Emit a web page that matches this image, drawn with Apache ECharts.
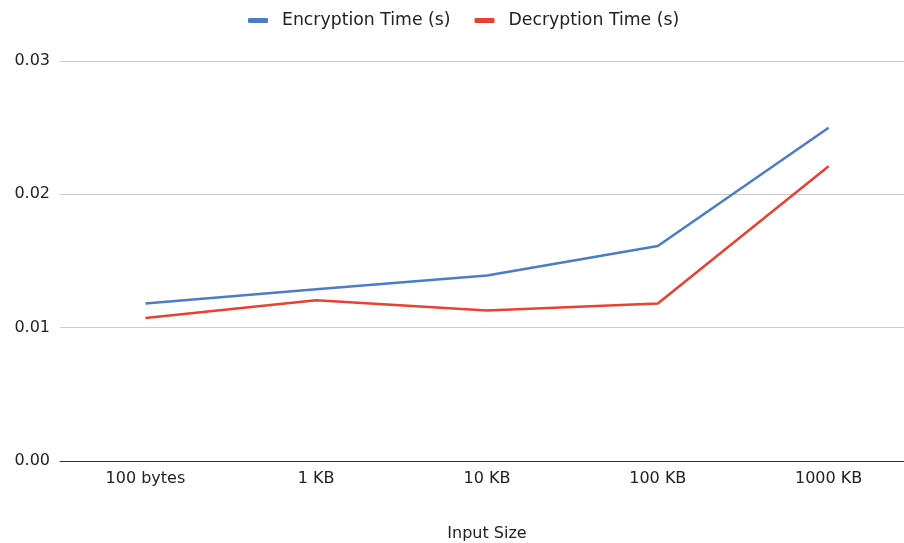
<!DOCTYPE html>
<html>
<head>
<meta charset="utf-8">
<script src="https://cdn.jsdelivr.net/npm/echarts@6/dist/echarts.min.js"></script>
<style>
html,body{margin:0;padding:0;background:#fff;}
#chart{width:904px;height:543px;}
</style>
</head>
<body>
<div id="chart"></div>
<script>
const categories = ['100 bytes', '1 KB', '10 KB', '100 KB', '1000 KB'];
const encryptionTime = [0.01181, 0.01289, 0.01391, 0.01613, 0.0250];
const decryptionTime = [0.01072, 0.01206, 0.01129, 0.01181, 0.0221];
const seriesNames = ['Encryption Time (s)', 'Decryption Time (s)'];
const xAxisName = 'Input Size';

const chart = echarts.init(document.getElementById('chart'));
const font = '"DejaVu Sans", sans-serif';
chart.setOption({
  animation: false,
  color: ['#4a7cc9', '#e8412f'],
  legend: {
    top: 12,
    left: 248,
    padding: 0,
    itemWidth: 20,
    itemHeight: 5,
    itemGap: 24,
    icon: 'roundRect',
    textStyle: { fontFamily: font, fontSize: 17.3, color: '#222', padding: [0, 0, 0, 9] },
    data: seriesNames
  },
  grid: { left: 60, top: 61, width: 854, height: 400, containLabel: false, outerBoundsMode: 'none' },
  xAxis: {
    type: 'category',
    data: categories,
    boundaryGap: true,
    name: xAxisName,
    nameLocation: 'middle',
    nameGap: 65,
    nameTextStyle: { fontFamily: font, fontSize: 16, color: '#222' },
    axisLine: { lineStyle: { color: '#333', width: 1 } },
    axisTick: { show: false },
    axisLabel: { fontFamily: font, fontSize: 16, color: '#222', margin: 10 }
  },
  yAxis: {
    type: 'value',
    min: 0,
    max: 0.03,
    interval: 0.01,
    axisLine: { show: false },
    axisTick: { show: false },
    splitLine: { lineStyle: { color: '#cccccc', width: 1 } },
    axisLabel: {
      fontFamily: font, fontSize: 16, color: '#222', margin: 10,
      formatter: v => v.toFixed(2)
    }
  },
  series: [
    {
      name: seriesNames[0], type: 'line', data: encryptionTime,
      symbol: 'none', lineStyle: { width: 2.5 }
    },
    {
      name: seriesNames[1], type: 'line', data: decryptionTime,
      symbol: 'none', lineStyle: { width: 2.5 }
    }
  ]
});
</script>
</body>
</html>
